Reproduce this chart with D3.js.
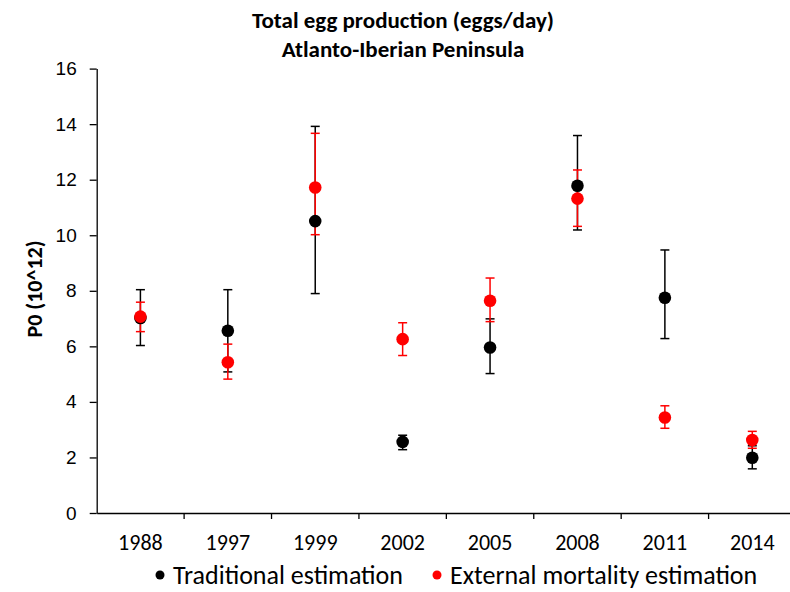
<!DOCTYPE html>
<html>
<head>
<meta charset="utf-8">
<script src="https://cdn.jsdelivr.net/npm/d3@7"></script>
<style>
  body { margin: 0; background: #fff; }
  svg { display: block; }
</style>
</head>
<body>
<svg id="chart" width="790" height="592"></svg>
<script>
// years on the x axis
var years = ["1988", "1997", "1999", "2002", "2005", "2008", "2011", "2014"];

// traditional estimation (black): value, lower, upper
var tradValue = [7.02, 6.56, 10.51, 2.56, 5.96, 11.78, 7.75, 1.99];
var tradLow   = [6.03, 5.08, 7.90, 2.28, 5.02, 10.19, 6.28, 1.59];
var tradHigh  = [8.04, 8.04, 13.92, 2.80, 6.99, 13.59, 9.47, 2.42];

// external mortality estimation (red): value, lower, upper
var extValue = [7.07, 5.43, 11.72, 6.26, 7.64, 11.32, 3.44, 2.63];
var extLow   = [6.53, 4.82, 10.02, 5.67, 6.89, 10.32, 3.05, 2.33];
var extHigh  = [7.59, 6.08, 13.67, 6.85, 8.46, 12.35, 3.86, 2.94];

var yTicks = [0, 2, 4, 6, 8, 10, 12, 14, 16];

var calibri = "Carlito, Lato, 'Open Sans', sans-serif";

var svg = d3.select("#chart");

// plot area (runs a bit past the right edge, like the original)
var plotLeft = 96.7, plotRight = 796, plotTop = 68.6, plotBottom = 513;

var x = d3.scaleBand()
    .domain(years)
    .range([plotLeft, plotRight]);

var y = d3.scaleLinear()
    .domain([0, 16])
    .range([plotBottom, plotTop]);

// Y axis
var yAxis = svg.append("g")
    .attr("transform", "translate(" + plotLeft + ",0)")
    .call(d3.axisLeft(y).tickValues(yTicks).tickSize(7).tickPadding(13).tickSizeOuter(0));
yAxis.select(".domain").attr("stroke", "#000").attr("stroke-width", 1.3);
yAxis.selectAll(".tick line").attr("stroke", "#000").attr("stroke-width", 1.3);
yAxis.selectAll(".tick text")
    .attr("fill", "#000")
    .style("font-family", "'Liberation Sans', Arial, sans-serif")
    .style("font-size", "19px");

// X axis: labels centred in bands, ticks on the band edges
var xAxis = svg.append("g")
    .attr("transform", "translate(0," + plotBottom + ")")
    .call(d3.axisBottom(x).tickSize(0).tickPadding(21).tickSizeOuter(0));
xAxis.select(".domain").attr("stroke", "#000").attr("stroke-width", 1.3);
xAxis.selectAll(".tick text")
    .attr("fill", "#000")
    .style("font-family", calibri)
    .style("font-size", "22px");

xAxis.selectAll(".edge")
    .data(years.slice(1))
    .enter()
    .append("line")
    .attr("x1", function (d) { return x(d); })
    .attr("x2", function (d) { return x(d); })
    .attr("y1", 0)
    .attr("y2", 6)
    .attr("stroke", "#000")
    .attr("stroke-width", 1.3);

// Y axis title
svg.append("text")
    .attr("transform", "translate(42,289) rotate(-90)")
    .attr("text-anchor", "middle")
    .style("font-family", calibri)
    .style("font-weight", "bold")
    .style("font-size", "22px")
    .text("P0 (10^12)");

// title
var title = svg.append("text")
    .attr("text-anchor", "middle")
    .style("font-family", calibri)
    .style("font-weight", "bold")
    .style("font-size", "23px");
title.append("tspan").attr("x", 403).attr("y", 28).text("Total egg production (eggs/day)");
title.append("tspan").attr("x", 403).attr("y", 57).text("Atlanto-Iberian Peninsula");

var series = [
    { name: "Traditional estimation", color: "#000", v: tradValue, lo: tradLow, hi: tradHigh },
    { name: "External mortality estimation", color: "#ff0000", v: extValue, lo: extLow, hi: extHigh }
];

var cx = function (i) { return x(years[i]) + x.bandwidth() / 2; };
var capW = 4.5;

// error bars first, dots on top
series.forEach(function (s) {
    var g = svg.append("g").attr("stroke", s.color).attr("stroke-width", 1.5);
    g.selectAll(".bar")
        .data(s.v)
        .enter()
        .append("line")
        .attr("x1", function (d, i) { return cx(i); })
        .attr("x2", function (d, i) { return cx(i); })
        .attr("y1", function (d, i) { return y(s.lo[i]); })
        .attr("y2", function (d, i) { return y(s.hi[i]); });
    g.selectAll(".capLo")
        .data(s.lo)
        .enter()
        .append("line")
        .attr("x1", function (d, i) { return cx(i) - capW; })
        .attr("x2", function (d, i) { return cx(i) + capW; })
        .attr("y1", function (d) { return y(d); })
        .attr("y2", function (d) { return y(d); });
    g.selectAll(".capHi")
        .data(s.hi)
        .enter()
        .append("line")
        .attr("x1", function (d, i) { return cx(i) - capW; })
        .attr("x2", function (d, i) { return cx(i) + capW; })
        .attr("y1", function (d) { return y(d); })
        .attr("y2", function (d) { return y(d); });
});

series.forEach(function (s) {
    svg.append("g")
        .selectAll("circle")
        .data(s.v)
        .enter()
        .append("circle")
        .attr("cx", function (d, i) { return cx(i); })
        .attr("cy", function (d) { return y(d); })
        .attr("r", 6.3)
        .attr("fill", s.color);
});

// legend
var legendX = [160, 437];
series.forEach(function (s, i) {
    var lg = svg.append("g").attr("transform", "translate(" + legendX[i] + ",575)");
    lg.append("circle").attr("r", 4.5).attr("fill", s.color);
    lg.append("text")
        .attr("x", 13)
        .attr("y", 9)
        .style("font-family", calibri)
        .style("font-size", "26px")
        .text(s.name);
});
</script>
</body>
</html>
